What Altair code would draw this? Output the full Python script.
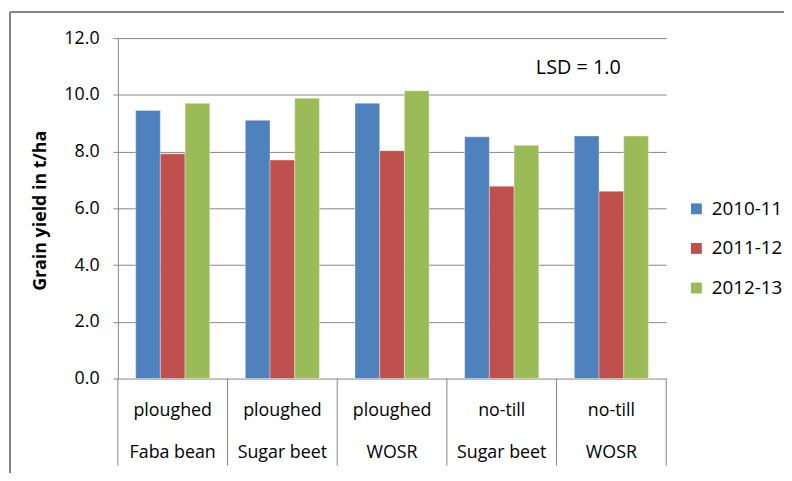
import altair as alt
import pandas as pd

# ---- data ----
tillage = ["ploughed", "ploughed", "ploughed", "no-till", "no-till"]
crops = ["Faba bean", "Sugar beet", "WOSR", "Sugar beet", "WOSR"]
seasons = ["2010-11", "2011-12", "2012-13"]
y_2010_11 = [9.45, 9.10, 9.70, 8.52, 8.55]
y_2011_12 = [7.92, 7.70, 8.03, 6.78, 6.60]
y_2012_13 = [9.70, 9.88, 10.14, 8.22, 8.55]
colors = ["#4F81BD", "#C0504D", "#9BBB59"]
y_ticks = [0, 2, 4, 6, 8, 10, 12]
lsd_text = ["LSD = 1.0"]
lsd_pos = [10.95]

keys = [f"c{i}" for i in range(len(crops))]
series = [y_2010_11, y_2011_12, y_2012_13]

rows = []
for i, k in enumerate(keys):
    for s, vals in zip(seasons, series):
        rows.append({"key": k, "season": s, "value": vals[i]})
df = pd.DataFrame(rows)
cats = pd.DataFrame({"key": keys, "tillage": tillage, "crop": crops})
lsd_df = pd.DataFrame({"key": [keys[-1]], "y": lsd_pos, "label": lsd_text})

W, H = 554, 344
FONT = "Open Sans"
GRAY = "#868686"

xscale = alt.Scale(paddingInner=0, paddingOuter=0)


def X(bp=None):
    if bp is None:
        return alt.X("key:N", sort=keys, scale=xscale, axis=None, title=None)
    return alt.X("key:N", sort=keys, scale=xscale, axis=None, title=None, bandPosition=bp)


bars = alt.Chart(df).mark_bar(stroke="white", strokeOpacity=0.35, strokeWidth=1).encode(
    x=X(),
    xOffset=alt.XOffset("season:N", sort=seasons,
                        scale=alt.Scale(paddingInner=0, paddingOuter=0.72)),
    y=alt.Y("value:Q",
            scale=alt.Scale(domain=[0, 12], nice=False),
            axis=alt.Axis(values=y_ticks, format=".1f", grid=True, gridColor=GRAY,
                          domainColor=GRAY, tickColor=GRAY, tickSize=5, labelPadding=14,
                          labelFontSize=18, labelColor="black", labelFont=FONT,
                          title="Grain yield in t/ha", titleFontSize=18,
                          titleFontWeight="bold", titleFont=FONT, titleColor="black",
                          titleX=-78, titleY=H / 2 + 2, titleBaseline="middle",
                          titleAlign="center")),
    color=alt.Color("season:N", sort=seasons,
                    scale=alt.Scale(domain=seasons, range=colors),
                    legend=alt.Legend(title=None, orient="none", legendX=575, legendY=163,
                                      symbolType="square", symbolSize=121,
                                      symbolStrokeWidth=0, labelFontSize=19,
                                      labelFont=FONT, labelColor="black",
                                      rowPadding=20, labelOffset=6)),
)

row1 = alt.Chart(cats).mark_text(fontSize=18, font=FONT, color="black", baseline="middle").encode(
    x=X(), y=alt.value(H + 33), text="tillage:N")
row2 = alt.Chart(cats).mark_text(fontSize=18, font=FONT, color="black", baseline="middle").encode(
    x=X(), y=alt.value(H + 75), text="crop:N")

dividers = alt.Chart(cats).mark_rule(color=GRAY, strokeWidth=1).encode(
    x=X(0), y=alt.value(H), y2=alt.value(H + 88))
last_div = alt.Chart(cats).transform_filter(
    alt.datum.key == keys[-1]).mark_rule(color=GRAY, strokeWidth=1).encode(
    x=X(1), y=alt.value(H), y2=alt.value(H + 88))

lsd = alt.Chart(lsd_df).mark_text(fontSize=20, font=FONT, color="black",
                                  align="center", baseline="middle", dx=22).encode(
    x=X(0), y=alt.Y("y:Q"), text="label:N")

frame_top = alt.Chart(cats).mark_rule(color=GRAY, strokeWidth=1.5).encode(
    x=alt.value(-109), x2=alt.value(W + 200), y=alt.value(-26))
frame_left = alt.Chart(cats).mark_rule(color=GRAY, strokeWidth=1.5).encode(
    x=alt.value(-109), y=alt.value(-26), y2=alt.value(H + 200))

chart = alt.layer(frame_top, frame_left, bars, dividers, last_div, row1, row2, lsd).properties(
    width=W, height=H,
    autosize=alt.AutoSizeParams(type="none"),
    padding={"left": 111, "top": 28, "right": 119, "bottom": 93},
).configure_view(stroke=None)

chart.save("out.html", embed_options={"renderer": "svg", "actions": False})
